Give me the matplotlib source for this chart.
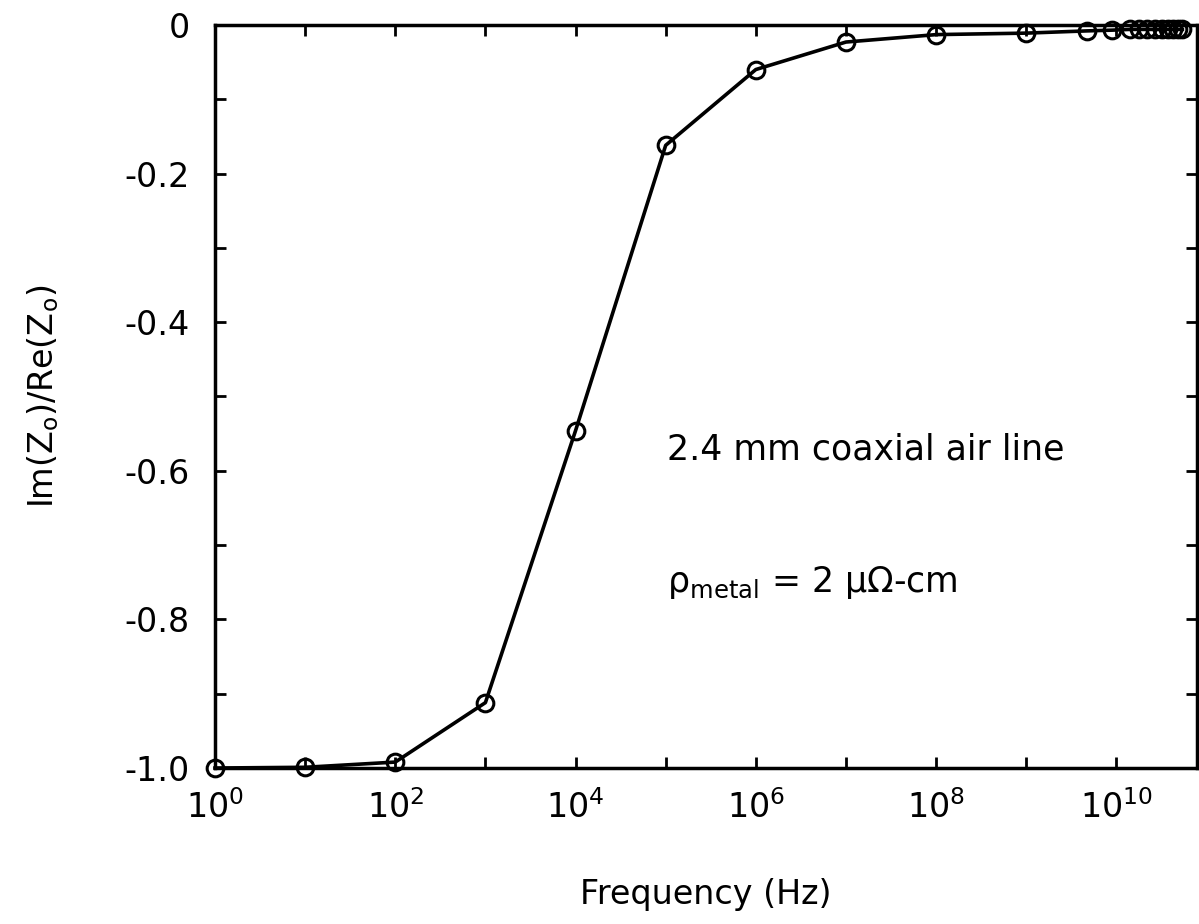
import numpy as np
from matplotlib import pyplot as plt
from matplotlib.ticker import FixedLocator, NullFormatter

plt.rcParams.update({
    'font.family': 'DejaVu Sans',
    'mathtext.fontset': 'custom',
    'mathtext.rm': 'DejaVu Sans',
    'mathtext.it': 'DejaVu Sans:italic',
    'mathtext.bf': 'DejaVu Sans:bold',
})

# frequency (Hz) and Im(Zo)/Re(Zo)
freq = [1e0, 1e1, 1e2, 1e3, 1e4, 1e5, 1e6, 1e7, 1e8, 1e9, 4.7e9, 9e9,
        1.4e10, 1.8e10, 2.2e10, 2.7e10, 3.2e10, 3.7e10, 4.2e10, 4.8e10, 5.4e10]
ratio = [-1.0, -0.999, -0.992, -0.912, -0.546, -0.162, -0.060, -0.023,
         -0.013, -0.011, -0.008, -0.007, -0.006, -0.006, -0.006, -0.006,
         -0.006, -0.006, -0.006, -0.006, -0.006]

xmajor = [10.0**k for k in range(0, 11, 2)]
xminor = [10.0**k for k in range(1, 11, 2)]
xlabels = [r'$\mathregular{10^{%d}}$' % k for k in range(0, 11, 2)]
ymajor = [0.0, -0.2, -0.4, -0.6, -0.8, -1.0]
ylabels = ['0', '-0.2', '-0.4', '-0.6', '-0.8', '-1.0']
yminor = [-0.1, -0.3, -0.5, -0.7, -0.9]

fig = plt.figure(figsize=(11.99, 9.24), dpi=100)
ax = fig.add_axes([0.1793, 0.1688, 0.8187, 0.8042])

ax.plot(freq, ratio, color='black', linewidth=2.6, marker='o', markersize=12,
        markerfacecolor='none', markeredgecolor='black', markeredgewidth=2.2,
        clip_on=False, zorder=3)

ax.set_xscale('log')
ax.set_xlim(1, 10**10.89)
ax.set_ylim(-1.0, 0.0)

ax.xaxis.set_major_locator(FixedLocator(xmajor))
ax.xaxis.set_minor_locator(FixedLocator(xminor))
ax.set_xticklabels(xlabels)
ax.xaxis.set_minor_formatter(NullFormatter())
ax.yaxis.set_major_locator(FixedLocator(ymajor))
ax.yaxis.set_minor_locator(FixedLocator(yminor))
ax.set_yticklabels(ylabels)

ax.tick_params(which='both', direction='in', top=True, right=True,
               width=2, length=8, labelsize=24)
ax.tick_params(axis='x', which='both', pad=16)
ax.tick_params(axis='y', which='both', pad=18)

for s in ax.spines.values():
    s.set_linewidth(2.5)

ax.set_xlabel('Frequency (Hz)', fontsize=24, labelpad=38)
ax.set_ylabel(r'Im(Z$_\mathregular{o}$)/Re(Z$_\mathregular{o}$)', fontsize=24, labelpad=46)

ax.text(0.46, 0.428, '2.4 mm coaxial air line', transform=ax.transAxes,
        fontsize=25, va='center', ha='left')
ax.text(0.46, 0.25, r'ρ$_\mathregular{metal}$ = 2 μΩ-cm', transform=ax.transAxes,
        fontsize=25, va='center', ha='left')

plt.savefig('out.png', dpi=100)
